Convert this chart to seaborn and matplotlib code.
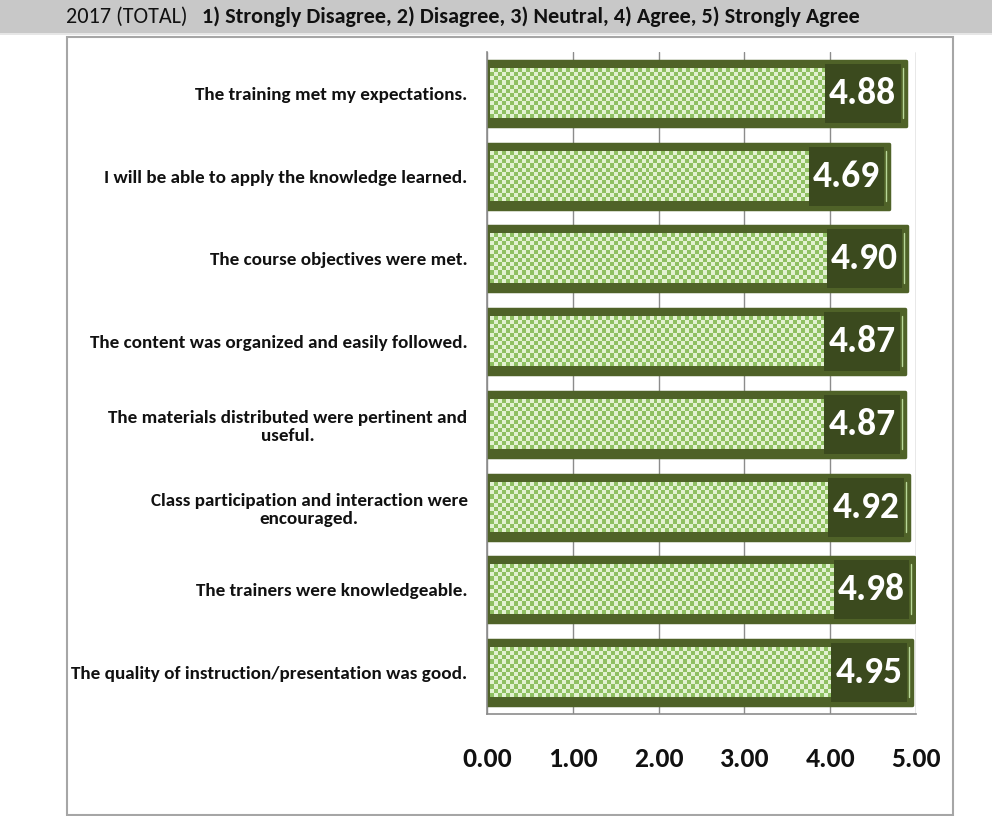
import numpy as np
import pandas as pd
import matplotlib
matplotlib.use("Agg")
import matplotlib.pyplot as plt
import seaborn as sns
from matplotlib.patches import Rectangle
from matplotlib.colors import ListedColormap
from matplotlib import font_manager as fm

# ---------------- data ----------------
questions = [
    "The training met my expectations.",
    "I will be able to apply the knowledge learned.",
    "The course objectives were met.",
    "The content was organized and easily followed.",
    "The materials distributed were pertinent and\nuseful.",
    "Class participation and interaction were\nencouraged.",
    "The trainers were knowledgeable.",
    "The quality of instruction/presentation was good.",
]
scores = [4.88, 4.69, 4.90, 4.87, 4.87, 4.92, 4.98, 4.95]
tick_values = [0, 1, 2, 3, 4, 5]
tick_labels = ["0.00", "1.00", "2.00", "3.00", "4.00", "5.00"]
title_year = "2017 (TOTAL)"
title_scale = "1) Strongly Disagree, 2) Disagree, 3) Neutral, 4) Agree, 5) Strongly Agree"

# ---------------- style ----------------
sns.set_theme(style="white")
installed = {f.name for f in fm.fontManager.ttflist}
candidates = ["Carlito", "Liberation Sans Narrow", "PT Sans Narrow",
              "Open Sans Condensed", "Archivo Narrow", "Roboto Condensed"]
families = [c for c in candidates if c in installed] + ["DejaVu Sans"]
plt.rcParams["font.family"] = families

W, H = 992, 816
fig = plt.figure(figsize=(W / 100, H / 100), dpi=100)


def fx(px):
    return px / W


def fy(py):
    return 1 - py / H


# title band
fig.patches.append(Rectangle((0, fy(33)), 1, 33 / H, transform=fig.transFigure,
                             facecolor="#c8c8c8", edgecolor="none", zorder=-5))
fig.patches.append(Rectangle((0, fy(35)), 1, 2 / H, transform=fig.transFigure,
                             facecolor="#e6e6e6", edgecolor="none", zorder=-5))
# outer chart frame
fig.patches.append(Rectangle((fx(67), fy(815)), (953 - 67) / W, (815 - 37) / H,
                             transform=fig.transFigure, facecolor="white",
                             edgecolor="#a6a6a6", lw=1.5, zorder=-5))

t1 = fig.text(fx(66), fy(17), title_year, fontsize=15.9, color="#111111",
              ha="left", va="center")
fig.canvas.draw()
bb = t1.get_window_extent()
fig.text((bb.x1 + 14) / W, fy(17), title_scale, fontsize=15.9, fontweight="bold",
         color="#111111", ha="left", va="center")

# ---------------- axes ----------------
ax = fig.add_axes([fx(487), fy(714), (916 - 487) / W, (714 - 52) / H])
df = pd.DataFrame({"question": questions, "score": scores})
bar_color = "#4f6228"
sns.barplot(data=df, y="question", x="score", orient="h", color=bar_color,
            saturation=1, width=0.785, edgecolor=bar_color, linewidth=2.5,
            ax=ax, zorder=2)
ax.set_xlim(0, 5)
ax.set_ylim(7.5, -0.5)

ux = 429 / 5.0       # px per x unit
uy = 662 / 8.0       # px per category
cell = 4             # checker cell size in px

cmap = ListedColormap(["#e3f1d2", "#8fbf62"])
box_color = "#3b4a1e"
for p in list(ax.patches):
    p.set_joinstyle("round")
    w = p.get_width()
    y0 = p.get_y()
    h = p.get_height()
    yc = y0 + h / 2
    left = 3 / ux
    right = w - 0.94
    top = y0 + 7 / uy
    bot = y0 + h - 8 / uy
    nx = int(round((right - left) * ux / cell))
    ny = int(round((bot - top) * uy / cell))
    ii, jj = np.indices((ny, nx))
    board = (ii + jj) % 2
    ax.imshow(board, cmap=cmap, extent=(left, right, bot, top), aspect="auto",
              interpolation="nearest", zorder=3)
    ax.add_patch(Rectangle((w - 0.94, y0 + 3 / uy), 0.88, h - 6 / uy,
                           facecolor=box_color, edgecolor="none", zorder=4))
    ax.plot([w - 0.035, w - 0.035], [top, bot], color="#b9d898", lw=1, zorder=4)
    ax.text(w - 0.50, yc, f"{w:.2f}", ha="center", va="center", color="white",
            fontsize=27, fontweight="bold", zorder=5)

ax.set_xticks(tick_values)
ax.set_xticklabels(tick_labels)
ax.xaxis.grid(True, color="#8c8c8c", lw=1)
ax.yaxis.grid(False)
ax.set_axisbelow(True)
ax.set_xlabel("")
ax.set_ylabel("")
ax.set_facecolor("none")
for s in ["top", "right"]:
    ax.spines[s].set_visible(False)
for s in ["left", "bottom"]:
    ax.spines[s].set_color("#8c8c8c")
    ax.spines[s].set_linewidth(1.2)
ax.tick_params(axis="x", length=0, pad=24, labelsize=20, labelcolor="#111111")
ax.tick_params(axis="y", length=0, pad=14, labelsize=13.8, labelcolor="#111111")
for lab in ax.get_xticklabels():
    lab.set_fontweight("bold")
for lab in ax.get_yticklabels():
    lab.set_fontweight("bold")
    lab.set_multialignment("center")

fig.savefig("out.png", dpi=100)
